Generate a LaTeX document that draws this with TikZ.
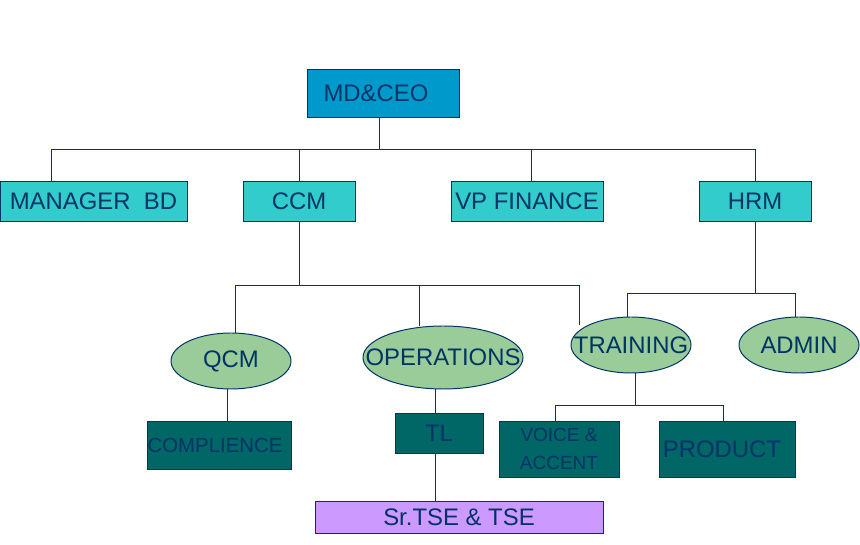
\documentclass[tikz,border=0pt]{standalone}
\usepackage{fontspec}
\setmainfont{Liberation Sans}
\usetikzlibrary{shapes.geometric}
\definecolor{navy}{HTML}{003366}
\definecolor{ceoblue}{HTML}{0099CC}
\definecolor{aqua}{HTML}{33CCCC}
\definecolor{sage}{HTML}{99CC99}
\definecolor{deepteal}{HTML}{006666}
\definecolor{lilac}{HTML}{CC99FF}
\begin{document}
\begin{tikzpicture}[font=\fontsize{17}{20}\selectfont,text=navy,line width=.7pt,
  post/.style={draw=navy,fill=aqua,inner sep=0pt,minimum height=1cm},
  unit/.style={draw=navy,fill=sage,ellipse,inner sep=0pt,minimum width=3cm,minimum height=1.4cm},
  team/.style={draw=navy,fill=deepteal,inner sep=0pt,minimum height=1.4cm},
  wire/.style={draw=navy}]
\useasboundingbox (0,0) rectangle (21.5,13.625);
\node[post,fill=ceoblue,minimum width=3.8cm,minimum height=1.2cm] (ceo) at (9.575,11.3) {MD\&CEO\hspace*{3.5mm}};
\node[post,minimum width=4.675cm] (mgr) at (2.3375,8.6) {MANAGER\ \ BD};
\node[post,minimum width=2.8cm] (ccm) at (7.475,8.6) {CCM};
\node[post,minimum width=3.8cm] (vpf) at (13.175,8.6) {VP FINANCE};
\node[post,minimum width=2.8cm] (hrm) at (18.875,8.6) {HRM};
\node[unit] (qcm) at (5.775,4.6) {\makebox[0pt]{QCM}};
\node[unit,minimum width=4cm,minimum height=1.575cm] (ops) at (11.075,4.6875) {\makebox[0pt]{OPERATIONS}};
\node[unit] (trn) at (15.775,5) {\makebox[0pt]{TRAINING}};
\node[unit] (adm) at (19.975,5) {\makebox[0pt]{ADMIN}};
\node[team,minimum width=3.6cm,minimum height=1.2cm,font=\fontsize{14.5}{17}\selectfont] (cmp) at (5.475,2.5) {COMPLIENCE\hspace*{2mm}};
\node[team,minimum width=2.2cm,minimum height=1cm] (tl) at (10.975,2.8) {TL};
\node[post,fill=lilac,minimum width=7.2cm,minimum height=.8cm] (tse) at (11.475,.7) {Sr.TSE \& TSE};
\node[team,minimum width=3cm,align=center,font=\fontsize{13.5}{20}\selectfont] (vac) at (13.975,2.4) {VOICE \&\\ACCENT};
\node[team,minimum width=3.4cm] (prd) at (18.175,2.4) {PRODUCT\hspace*{2.5mm}};
% top level
\draw[wire] ([xshift=-1mm]ceo.south) -- ++(0,-.8) -| ([xshift=-10.625mm]mgr.north);
\draw[wire] ([xshift=-1mm]ceo.south) -- ++(0,-.8) -| (ccm.north);
\draw[wire] ([xshift=-1mm]ceo.south) -- ++(0,-.8) -| ([xshift=1mm]vpf.north);
\draw[wire] ([xshift=-1mm]ceo.south) -- ++(0,-.8) -| (hrm.north);
% under CCM
\coordinate (trnend) at ([xshift=-13mm,yshift=-2mm]trn.north);
\draw[wire] (ccm.south) -- ++(0,-1.6) -| ([xshift=1mm]qcm.north);
\draw[wire] (ccm.south) -- ++(0,-1.6) -| ([xshift=-6mm]ops.north);
\draw[wire] (ccm.south) -- ++(0,-1.6) -| (trnend);
% under HRM
\draw[wire] (hrm.south) -- ++(0,-1.8) -| ([xshift=-1mm]trn.north);
\draw[wire] (hrm.south) -- ++(0,-1.8) -| ([xshift=-1mm]adm.north);
% lower levels
\draw[wire] ([xshift=2mm]cmp.north) -- ++(0,.8);
\draw[wire] ([xshift=-1mm]tl.north) -- ++(0,.6);
\draw[wire] ([xshift=-6mm]tse.north) -- ++(0,1.2);
\draw[wire] ([xshift=1mm]trn.south) -- ++(0,-.8) -| ([xshift=-1mm]vac.north);
\draw[wire] ([xshift=1mm]trn.south) -- ++(0,-.8) -| ([xshift=-1mm]prd.north);
\end{tikzpicture}
\end{document}
